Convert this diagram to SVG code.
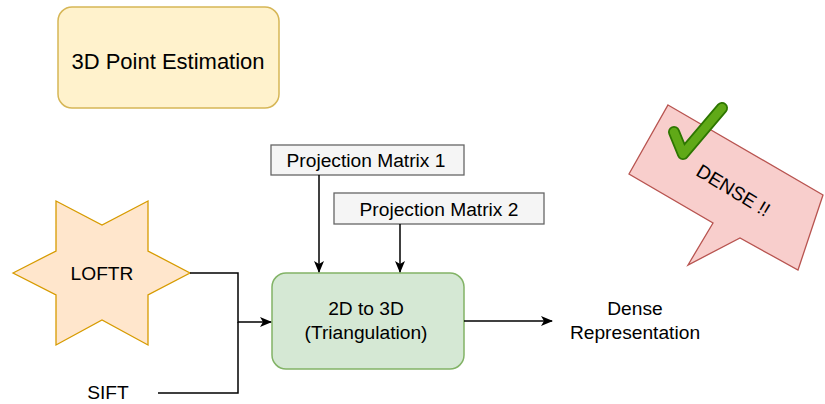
<svg xmlns="http://www.w3.org/2000/svg" width="825" height="404" viewBox="0 0 825 404">
  <style>
    text { font-family: "Liberation Sans", Arial, sans-serif; fill: #000; }
    .lbl { font-size: 19.2px; text-anchor: middle; }
    .title { font-size: 22px; text-anchor: middle; }
    .edge { fill: none; stroke: #000; stroke-width: 1.5; }
    .input { fill: #f5f5f5; stroke: #666; stroke-width: 1.3; }
  </style>
  <defs>
    <marker id="arrow" viewBox="0 0 12 10" refX="11" refY="5" markerWidth="12" markerHeight="10" markerUnits="userSpaceOnUse" orient="auto">
      <path d="M0,0 L12,5 L0,10 L3,5 Z" fill="#000"/>
    </marker>
  </defs>

  <rect width="825" height="404" fill="#fff"/>

  <g id="title">
    <rect x="58" y="7" width="221" height="101" rx="14" fill="#fff2cc" stroke="#d6b656" stroke-width="1.5"/>
    <text class="title" x="168" y="68.5">3D Point Estimation</text>
  </g>

  <g id="loftr">
    <path d="M13,273 L56,251 L56,201 L102,225 L148,201 L148,251 L190,273 L148,295 L148,345 L102,320 L56,345 L56,295 Z" fill="#ffe6cc" stroke="#d79b00" stroke-width="1.3" stroke-linejoin="miter"/>
    <text class="lbl" x="102" y="280">LOFTR</text>
  </g>

  <g id="sift">
    <text class="lbl" x="108" y="398.5">SIFT</text>
  </g>

  <g id="pm1">
    <rect class="input" x="271" y="145" width="193" height="30"/>
    <text class="lbl" x="366" y="167">Projection Matrix 1</text>
  </g>

  <g id="pm2">
    <rect class="input" x="334" y="193" width="210" height="31"/>
    <text class="lbl" x="439" y="215.5">Projection Matrix 2</text>
  </g>

  <g id="triangulation">
    <rect x="272" y="273" width="192" height="96" rx="14" fill="#d5e8d4" stroke="#82b366" stroke-width="1.5"/>
    <text class="lbl" x="366" y="315">2D to 3D</text>
    <text class="lbl" x="366" y="339">(Triangulation)</text>
  </g>

  <g id="dense-rep">
    <text class="lbl" x="635" y="315">Dense</text>
    <text class="lbl" x="635" y="339">Representation</text>
  </g>

  <g id="dense-callout">
    <path d="M668,105 L823,195 L798,270 L740,238 L688,265 L713,223 L629,174 Z" fill="#f8cecc" stroke="#b85450" stroke-width="1.3" stroke-linejoin="miter"/>
    <text class="lbl" x="0" y="0" transform="translate(730,196) rotate(31)">DENSE !!</text>
    <!-- green tick mark -->
    <path d="M674,132 L683,154 L722,108" fill="none" stroke="#2d7600" stroke-width="12" stroke-linecap="round" stroke-linejoin="round"/>
    <path d="M674,132 L683,154 L722,108" fill="none" stroke="#60a917" stroke-width="8.5" stroke-linecap="round" stroke-linejoin="round"/>
  </g>

  <g id="connectors">
    <path class="edge" d="M190,273 H238 V322 H271" marker-end="url(#arrow)"/>
    <path class="edge" d="M158,393 H238 V322"/>
    <path class="edge" d="M319,175 V272" marker-end="url(#arrow)"/>
    <path class="edge" d="M400,224 V272" marker-end="url(#arrow)"/>
    <path class="edge" d="M464,321 H552" marker-end="url(#arrow)"/>
  </g>
</svg>
